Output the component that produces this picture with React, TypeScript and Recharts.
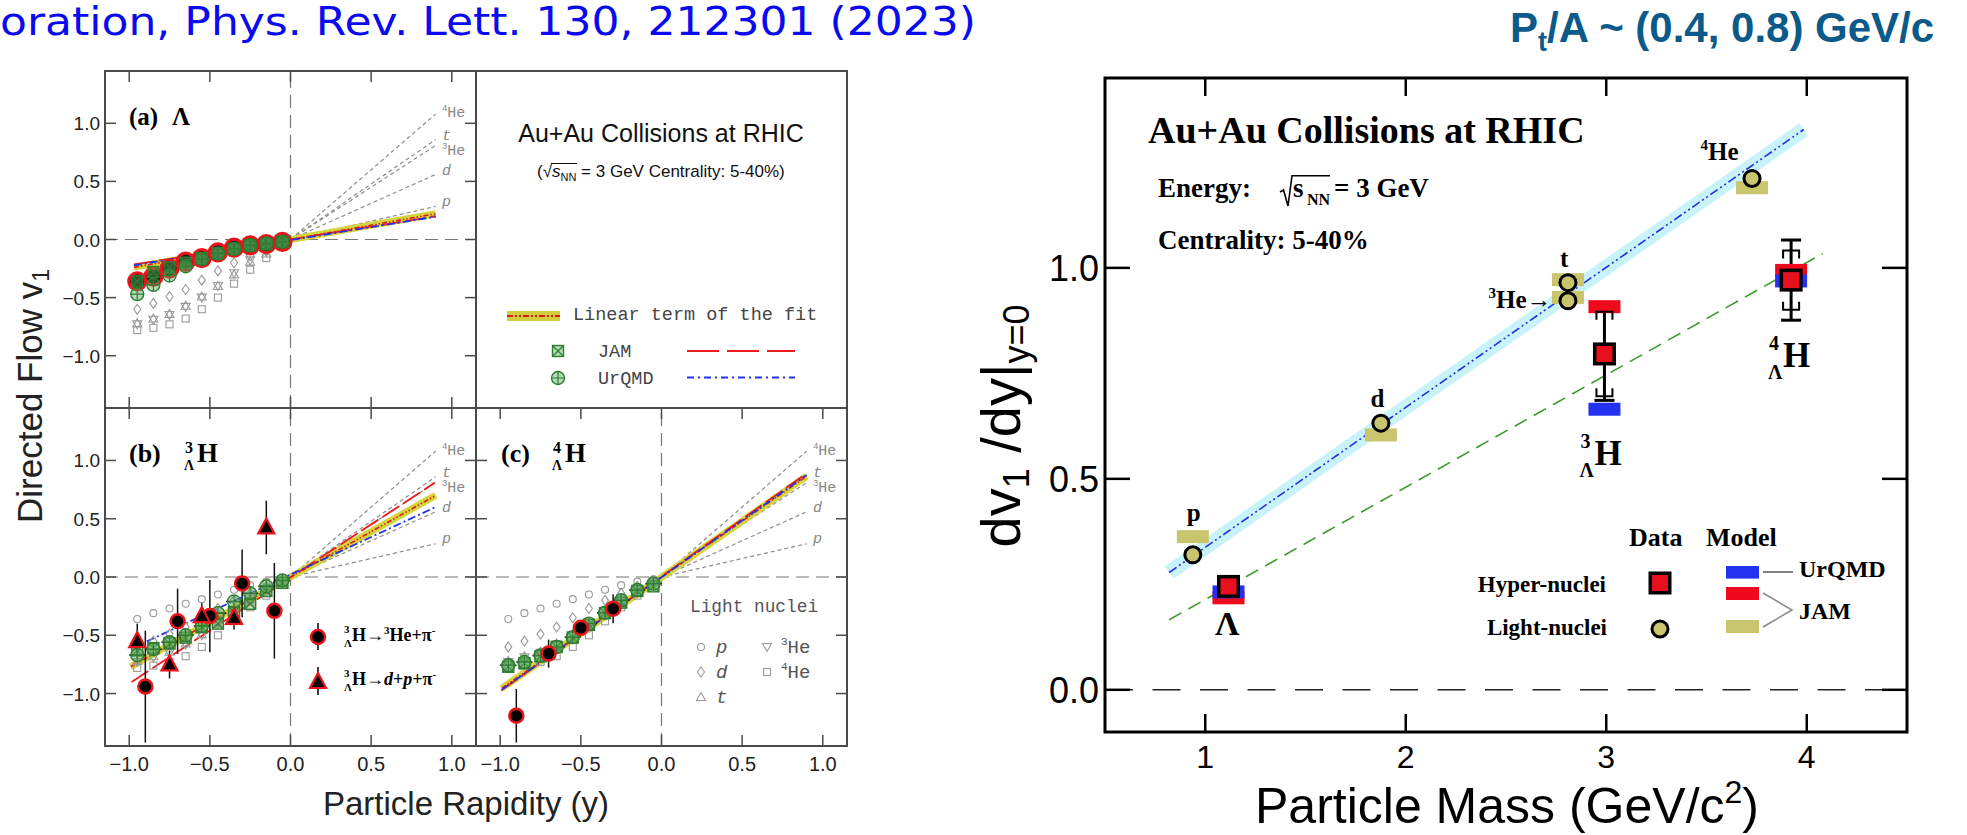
import React from 'react';
import {
  ComposedChart,
  Scatter,
  Line,
  XAxis,
  YAxis,
  ReferenceLine,
  ReferenceArea,
  ErrorBar,
} from 'recharts';

// ---------------- v1(y) panels ----------------
const rapidity = [-0.95, -0.85, -0.75, -0.65, -0.55, -0.45, -0.35, -0.25, -0.15, -0.05];

// light nuclei v1, shown in grey in every panel
const v1Proton = [-0.36, -0.31, -0.27, -0.23, -0.19, -0.15, -0.11, -0.07, -0.04, -0.02];
const v1Deuteron = [-0.6, -0.55, -0.49, -0.43, -0.35, -0.27, -0.2, -0.14, -0.08, -0.03];
const v1Triton = [-0.72, -0.68, -0.64, -0.57, -0.49, -0.4, -0.3, -0.19, -0.12, -0.04];
const v1Helium3 = [-0.73, -0.69, -0.65, -0.58, -0.5, -0.4, -0.29, -0.18, -0.11, -0.04];
const v1Helium4 = [-0.78, -0.76, -0.73, -0.68, -0.6, -0.5, -0.38, -0.26, -0.16, -0.05];

// light nuclei linear terms, drawn from y = 0 to y = 0.9
const nucleiNames = ['p', 'd', 't', '3He', '4He'];
const nucleiFitEnd = [0.285, 0.56, 0.86, 0.81, 1.08];
const nucleiLabelY = [0.291, 0.557, 0.857, 0.728, 1.051];
const NUCLEI_LABEL_X = 0.939;
const FIT_END_X = 0.9;
const BIN_HALF_WIDTH = 0.05;

// (a) Lambda
const lambdaV1 = [-0.36, -0.32, -0.25, -0.19, -0.16, -0.11, -0.07, -0.05, -0.04, -0.02];
const lambdaJam = [-0.36, -0.28, -0.24, -0.2, -0.16, -0.12, -0.08, -0.05, -0.04, -0.02];
const lambdaUrqmd = [-0.47, -0.39, -0.31, -0.23, -0.17, -0.12, -0.08, -0.05, -0.035, -0.02];
const lambdaFit = [[-0.97, -0.24], [0.9, 0.222]];
const lambdaJamLine = [[-0.97, -0.215], [0.9, 0.2]];
const lambdaUrqmdLine = [[-0.97, -0.222], [0.9, 0.196]];

// (b) hypertriton, two decay channels
const h3TwoBodyY = [-0.9, -0.7, -0.5, -0.3, -0.1];
const h3TwoBodyV1 = [-0.94, -0.38, -0.335, -0.055, -0.29];
const h3TwoBodyErr = [0.48, 0.28, 0.31, 0.29, 0.41];
const h3ThreeBodyY = [-0.95, -0.75, -0.55, -0.35, -0.15];
const h3ThreeBodyV1 = [-0.55, -0.75, -0.335, -0.35, 0.425];
const h3ThreeBodyErr = [0.15, 0.12, 0.12, 0.1, 0.23];
const h3Jam = [-0.63, -0.61, -0.57, -0.52, -0.43, -0.4, -0.3, -0.23, -0.12, -0.05];
const h3Urqmd = [-0.67, -0.62, -0.56, -0.5, -0.42, -0.31, -0.21, -0.14, -0.08, -0.03];
const h3Fit = [[-0.99, -0.77], [0.9, 0.7]];
const h3JamLine = [[-0.985, -0.9], [0.895, 0.81]];
const h3UrqmdLine = [[-0.98, -0.61], [0.9, 0.6]];

// (c) hyperhydrogen-4
const h4Y = [-0.9, -0.7, -0.5, -0.3];
const h4V1 = [-1.19, -0.657, -0.436, -0.272];
const h4Err = [0.23, 0.12, 0.05, 0.125];
const h4Jam = [-0.77, -0.74, -0.68, -0.6, -0.52, -0.41, -0.31, -0.22, -0.12, -0.08];
const h4Urqmd = [-0.757, -0.729, -0.674, -0.6, -0.516, -0.4, -0.307, -0.2, -0.112, -0.057];
const h4Fit = [[-0.99, -0.955], [0.9, 0.865]];
const h4JamLine = [[-0.995, -0.975], [0.9, 0.89]];
const h4UrqmdLine = [[-0.99, -0.965], [0.9, 0.875]];

// ---------------- dv1/dy vs mass ----------------
const lightMass = [0.938, 1.876, 2.809, 2.809, 3.727];
const lightSlope = [0.32, 0.632, 0.965, 0.922, 1.212];
const lightJamSlope = [0.363, 0.604, 0.972, 0.93, 1.19];
const hyperMass = [1.116, 2.991, 3.922];
const hyperSlope = [0.245, 0.796, 0.971];
const hyperStat = [0.012, 0.11, 0.095];
const hyperSys = [0.01, 0.1, 0.07];
const hyperJamSlope = [0.218, 0.908, 0.994];
const hyperUrqmdSlope = [0.232, 0.665, 0.969];
const lightBand = [[0.82, 0.278], [3.985, 1.328]];
const hyperGuide = [[0.82, 0.166], [4.08, 1.034]];
const massLabels = [
  { x: 0.942, y: 0.399, kind: 'p' },
  { x: 1.859, y: 0.671, kind: 'd' },
  { x: 2.79, y: 1.002, kind: 't' },
  { x: 2.727, y: 0.905, kind: 'he3' },
  { x: 3.47, y: 1.255, kind: 'he4' },
  { x: 1.11, y: 0.13, kind: 'lambda' },
  { x: 2.942, y: 0.533, kind: 'h3' },
  { x: 3.882, y: 0.766, kind: 'h4' },
];

const SERIF = '"Liberation Serif", "Times New Roman", serif';
const SANS = '"Liberation Sans", Arial, sans-serif';
const MONO = '"Liberation Mono", "Courier New", monospace';
const FRAME = '#4a4a4a';
const GREY = '#9a9a9a';
const GREEN = '#2e7d32';
const GREEN_FILL = 'rgba(90,170,90,0.45)';
const DATA_RED = '#e8141c';
const JAM_RED = '#ee1c1c';
const URQMD_BLUE = '#2233ee';
const KHAKI = '#c9c46e';

const pts = (xs: number[], ys: number[], errs?: number[]) =>
  xs.map((x, i) => ({ x, y: ys[i], err: errs ? errs[i] : 0, xe: BIN_HALF_WIDTH }));
const seg = (pair: number[][]) => pair.map(([x, y]) => ({ x, y }));
const fmt = (v: number) => `${v < 0 ? '\u2212' : ''}${Math.abs(v).toFixed(1)}`;

const line = (key: string, data: number[][], stroke: string, width: number, dash?: string) => (
  <Line
    key={key}
    data={seg(data)}
    dataKey="y"
    type="linear"
    dot={false}
    activeDot={false}
    stroke={stroke}
    strokeWidth={width}
    strokeDasharray={dash}
    strokeLinecap="butt"
    isAnimationActive={false}
  />
);

// ---------- marker shapes ----------
const greyCircle = (p: any) => <circle cx={p.cx} cy={p.cy} r={3.5} fill="none" stroke={GREY} strokeWidth={1.1} />;
const greyDiamond = (p: any) => (
  <path d={`M${p.cx},${p.cy - 5}L${p.cx + 3.5},${p.cy}L${p.cx},${p.cy + 5}L${p.cx - 3.5},${p.cy}Z`} fill="none" stroke={GREY} strokeWidth={1.1} />
);
const greyTriUp = (p: any) => (
  <path d={`M${p.cx},${p.cy - 4.5}L${p.cx + 4.5},${p.cy + 3.5}L${p.cx - 4.5},${p.cy + 3.5}Z`} fill="none" stroke={GREY} strokeWidth={1.1} />
);
const greyTriDown = (p: any) => (
  <path d={`M${p.cx},${p.cy + 4.5}L${p.cx + 4.5},${p.cy - 3.5}L${p.cx - 4.5},${p.cy - 3.5}Z`} fill="none" stroke={GREY} strokeWidth={1.1} />
);
const greySquare = (p: any) => (
  <rect x={p.cx - 3.5} y={p.cy - 3.5} width={7} height={7} fill="none" stroke={GREY} strokeWidth={1.1} />
);
const jamMarker = (p: any) => (
  <g>
    <rect x={p.cx - 5.5} y={p.cy - 5.5} width={11} height={11} fill={GREEN_FILL} stroke={GREEN} strokeWidth={1.4} />
    <path d={`M${p.cx - 5.5},${p.cy - 5.5}L${p.cx + 5.5},${p.cy + 5.5}M${p.cx + 5.5},${p.cy - 5.5}L${p.cx - 5.5},${p.cy + 5.5}`} stroke={GREEN} strokeWidth={1.2} />
  </g>
);
const urqmdMarker = (p: any) => (
  <g>
    <circle cx={p.cx} cy={p.cy} r={6.5} fill={GREEN_FILL} stroke={GREEN} strokeWidth={1.4} />
    <path d={`M${p.cx - 6.5},${p.cy}H${p.cx + 6.5}M${p.cx},${p.cy - 6.5}V${p.cy + 6.5}`} stroke={GREEN} strokeWidth={1.2} />
  </g>
);
const dataCircle = (p: any) => <circle cx={p.cx} cy={p.cy} r={7} fill="#000" stroke={DATA_RED} strokeWidth={2.5} />;
const lambdaCircle = (p: any) => <circle cx={p.cx} cy={p.cy} r={8.5} fill="#111" stroke={DATA_RED} strokeWidth={3.2} />;
const dataTriangle = (p: any) => (
  <path d={`M${p.cx},${p.cy - 9}L${p.cx + 8},${p.cy + 6}L${p.cx - 8},${p.cy + 6}Z`} fill="#000" stroke={DATA_RED} strokeWidth={2.2} />
);
const nucleiLabel = (p: any) => {
  const name = p.payload.name as string;
  const sup = name.length > 1 ? name[0] : null;
  return (
    <text x={p.cx} y={p.cy} fontFamily={MONO} fontSize={15} fill="#888">
      {sup ? (
        <>
          <tspan fontSize={9} dy={-6}>{sup}</tspan>
          <tspan dy={6}>He</tspan>
        </>
      ) : (
        <tspan fontStyle="italic">{name}</tspan>
      )}
    </text>
  );
};

// ---------- panel frame ticks (inward on all four sides) ----------
const panelXTick = (plotH: number, labels: boolean) => (p: any) => (
  <g>
    <line x1={p.x} x2={p.x} y1={p.y} y2={p.y - 11} stroke={FRAME} strokeWidth={1.5} />
    <line x1={p.x} x2={p.x} y1={p.y - plotH} y2={p.y - plotH + 11} stroke={FRAME} strokeWidth={1.5} />
    {labels ? (
      <text x={p.x} y={p.y + 25} textAnchor="middle" fontFamily={SANS} fontSize={20} fill="#222">
        {fmt(p.payload.value)}
      </text>
    ) : null}
  </g>
);
const panelYTick = (plotW: number, labels: boolean) => (p: any) => (
  <g>
    <line x1={p.x} x2={p.x + 11} y1={p.y} y2={p.y} stroke={FRAME} strokeWidth={1.5} />
    <line x1={p.x + plotW} x2={p.x + plotW - 11} y1={p.y} y2={p.y} stroke={FRAME} strokeWidth={1.5} />
    {labels ? (
      <text x={p.x - 5} y={p.y + 7} textAnchor="end" fontFamily={SANS} fontSize={19} fill="#222">
        {fmt(p.payload.value)}
      </text>
    ) : null}
  </g>
);

// space around each plot area: chart margin plus axis band
const PM = { top: 6, right: 6, bottom: 20, left: 34 };
const P_AXIS_H = 20;
const P_AXIS_W = 30;
type Box = { left: number; top: number; width: number; height: number };
const PANEL_A: Box = { left: 105, top: 71, width: 371, height: 337 };
const PANEL_B: Box = { left: 105, top: 408, width: 371, height: 338 };
const PANEL_C: Box = { left: 476, top: 408, width: 371, height: 338 };

const nucleiItems = (id: string) => [
  ...nucleiFitEnd.map((end, i) => line(`${id}-nf${i}`, [[0, 0], [FIT_END_X, end]], '#8c8c8c', 1.2, '4 3')),
  <Scatter
    key={`${id}-nl`}
    data={nucleiNames.map((name, i) => ({ x: NUCLEI_LABEL_X, y: nucleiLabelY[i], name }))}
    shape={nucleiLabel}
    isAnimationActive={false}
  />,
  <Scatter key={`${id}-g4`} data={pts(rapidity, v1Helium4)} shape={greySquare} isAnimationActive={false} />,
  <Scatter key={`${id}-g3`} data={pts(rapidity, v1Helium3)} shape={greyTriDown} isAnimationActive={false} />,
  <Scatter key={`${id}-gt`} data={pts(rapidity, v1Triton)} shape={greyTriUp} isAnimationActive={false} />,
  <Scatter key={`${id}-gd`} data={pts(rapidity, v1Deuteron)} shape={greyDiamond} isAnimationActive={false} />,
  <Scatter key={`${id}-gp`} data={pts(rapidity, v1Proton)} shape={greyCircle} isAnimationActive={false} />,
];

const modelLines = (id: string, fit: number[][], jam: number[][], urqmd: number[][]) => [
  line(`${id}-band`, fit, '#d4d43c', 7),
  line(`${id}-fit`, fit, '#e01818', 1.6, '5 2 1.5 2 1.5 2'),
  line(`${id}-jam`, jam, JAM_RED, 1.8, '20 5'),
  line(`${id}-urqmd`, urqmd, URQMD_BLUE, 1.8, '8 3 2 3'),
];

const modelMarkers = (id: string, jam: number[], urqmd: number[], xBars: boolean) => [
  <Scatter key={`${id}-mj`} data={pts(rapidity, jam)} shape={jamMarker} isAnimationActive={false} />,
  <Scatter key={`${id}-mu`} data={pts(rapidity, urqmd)} shape={urqmdMarker} isAnimationActive={false}>
    {xBars ? <ErrorBar dataKey="xe" direction="x" width={0} stroke="#111" strokeWidth={1.6} /> : null}
  </Scatter>,
];

function RapidityPanel({ box, showX, showY, children }: { box: Box; showX: boolean; showY: boolean; children: React.ReactNode }) {
  const offL = PM.left + P_AXIS_W;
  const offT = PM.top;
  return (
    <div style={{ position: 'absolute', left: box.left - offL, top: box.top - offT }}>
      <ComposedChart
        width={box.width + offL + PM.right}
        height={box.height + PM.top + PM.bottom + P_AXIS_H}
        margin={PM}
      >
        <XAxis
          type="number"
          dataKey="x"
          domain={[-1.15, 1.15]}
          ticks={[-1, -0.5, 0, 0.5, 1]}
          allowDataOverflow
          height={P_AXIS_H}
          tickSize={0}
          tickMargin={0}
          tickLine={false}
          axisLine={false}
          interval={0}
          tick={panelXTick(box.height, showX)}
        />
        <YAxis
          type="number"
          dataKey="y"
          domain={[-1.45, 1.45]}
          ticks={[-1, -0.5, 0, 0.5, 1]}
          allowDataOverflow
          width={P_AXIS_W}
          tickSize={0}
          tickMargin={0}
          tickLine={false}
          axisLine={false}
          interval={0}
          tick={panelYTick(box.width, showY)}
        />
        <ReferenceLine y={0} stroke="#777" strokeWidth={1.2} strokeDasharray="13 7" />
        <ReferenceLine x={0} stroke="#777" strokeWidth={1.2} strokeDasharray="13 7" />
        {children}
        <ReferenceArea x1={-1.15} x2={1.15} y1={-1.45} y2={1.45} fill="none" stroke={FRAME} strokeWidth={2} ifOverflow="visible" />
      </ComposedChart>
    </div>
  );
}

// ---------- mass panel ----------
const R: Box = { left: 1105, top: 78, width: 802, height: 654 };
const RM = { top: 10, right: 10, bottom: 20, left: 30 };
const R_AXIS_H = 30;
const R_AXIS_W = 40;

const massXTick = (p: any) => (
  <g>
    <line x1={p.x} x2={p.x} y1={p.y} y2={p.y - 18} stroke="#000" strokeWidth={2.5} />
    <line x1={p.x} x2={p.x} y1={p.y - R.height} y2={p.y - R.height + 18} stroke="#000" strokeWidth={2.5} />
    <text x={p.x} y={p.y + 36} textAnchor="middle" fontFamily={SANS} fontSize={32} fill="#000">
      {p.payload.value}
    </text>
  </g>
);
const massYTick = (p: any) => (
  <g>
    <line x1={p.x} x2={p.x + 25} y1={p.y} y2={p.y} stroke="#000" strokeWidth={2.5} />
    <line x1={p.x + R.width} x2={p.x + R.width - 25} y1={p.y} y2={p.y} stroke="#000" strokeWidth={2.5} />
    <text x={p.x - 6} y={p.y + 13} textAnchor="end" fontFamily={SANS} fontSize={36} fill="#000">
      {Number(p.payload.value).toFixed(1)}
    </text>
  </g>
);

const modelRect = (fill: string) => (p: any) => (
  <rect x={p.cx - 16} y={p.cy - 6.5} width={32} height={13} fill={fill} />
);
const lightCircle = (p: any) => <circle cx={p.cx} cy={p.cy} r={8} fill={KHAKI} stroke="#000" strokeWidth={3} />;
const hyperSquare = (p: any) => (
  <rect x={p.cx - 9.75} y={p.cy - 9.75} width={19.5} height={19.5} fill="#e8101e" stroke="#000" strokeWidth={3.5} />
);
const sysCapTop = (p: any) => (
  <path d={`M${p.cx - 8},${p.cy + 8}V${p.cy}H${p.cx + 8}V${p.cy + 8}`} fill="none" stroke="#000" strokeWidth={2} />
);
const sysCapBottom = (p: any) => (
  <path d={`M${p.cx - 8},${p.cy - 8}V${p.cy}H${p.cx + 8}V${p.cy - 8}`} fill="none" stroke="#000" strokeWidth={2} />
);
const hyperText = (cx: number, cy: number, mass: string) => (
  <g fontFamily={SERIF} fontWeight="bold" fill="#000">
    <text x={cx - 9} y={cy - 17} textAnchor="middle" fontSize={20}>{mass}</text>
    <text x={cx - 8} y={cy + 12} textAnchor="middle" fontSize={20}>Λ</text>
    <text x={cx} y={cy} fontSize={35}>H</text>
  </g>
);
const massLabel = (p: any) => {
  const { cx, cy } = p;
  const common = { fontFamily: SERIF, fontWeight: 'bold' as const, fill: '#000' };
  switch (p.payload.kind) {
    case 'p':
    case 'd':
    case 't':
      return <text x={cx} y={cy} textAnchor="middle" fontSize={25} {...common}>{p.payload.kind}</text>;
    case 'he3':
      return (
        <text x={cx} y={cy} textAnchor="end" fontSize={25} {...common}>
          <tspan fontSize={15} dy={-10}>3</tspan>
          <tspan dy={10}>He</tspan>
          <tspan fontWeight="normal">→</tspan>
        </text>
      );
    case 'he4':
      return (
        <text x={cx} y={cy} fontSize={25} {...common}>
          <tspan fontSize={15} dy={-10}>4</tspan>
          <tspan dy={10}>He</tspan>
        </text>
      );
    case 'lambda':
      return <text x={cx} y={cy} textAnchor="middle" fontSize={34} {...common}>Λ</text>;
    case 'h3':
      return hyperText(cx, cy, '3');
    default:
      return hyperText(cx, cy, '4');
  }
};

function MassChart() {
  const hyper = hyperMass.map((x, i) => ({ x, y: hyperSlope[i], err: hyperStat[i] }));
  const offL = RM.left + R_AXIS_W;
  return (
    <div style={{ position: 'absolute', left: R.left - offL, top: R.top - RM.top }}>
      <ComposedChart
        width={R.width + offL + RM.right}
        height={R.height + RM.top + RM.bottom + R_AXIS_H}
        margin={RM}
      >
        <XAxis
          type="number"
          dataKey="x"
          domain={[0.5, 4.5]}
          ticks={[1, 2, 3, 4]}
          allowDataOverflow
          height={R_AXIS_H}
          tickSize={0}
          tickMargin={0}
          tickLine={false}
          axisLine={false}
          interval={0}
          tick={massXTick}
        />
        <YAxis
          type="number"
          dataKey="y"
          domain={[-0.1, 1.45]}
          ticks={[0, 0.5, 1]}
          allowDataOverflow
          width={R_AXIS_W}
          tickSize={0}
          tickMargin={0}
          tickLine={false}
          axisLine={false}
          interval={0}
          tick={massYTick}
        />
        <ReferenceLine y={0} stroke="#222" strokeWidth={1.6} strokeDasharray="28 19.5" />
        {line('band', lightBand, '#c8f3fa', 15)}
        {line('band-line', lightBand, '#2030e0', 1.6, '9 3 2 3 2 3')}
        {line('guide', hyperGuide, '#3a9a2a', 1.6, '14 8')}
        <Scatter data={pts(lightMass, lightJamSlope)} shape={modelRect(KHAKI)} isAnimationActive={false} />
        <Scatter data={pts(hyperMass, hyperJamSlope)} shape={modelRect('#ee0a1c')} isAnimationActive={false} />
        <Scatter data={pts(hyperMass, hyperUrqmdSlope)} shape={modelRect('#2232f0')} isAnimationActive={false} />
        <Scatter data={hyperMass.map((x, i) => ({ x, y: hyperSlope[i] + hyperSys[i] }))} shape={sysCapTop} isAnimationActive={false} />
        <Scatter data={hyperMass.map((x, i) => ({ x, y: hyperSlope[i] - hyperSys[i] }))} shape={sysCapBottom} isAnimationActive={false} />
        <Scatter data={hyper} shape={hyperSquare} isAnimationActive={false}>
          <ErrorBar dataKey="err" direction="y" width={10} stroke="#000" strokeWidth={3} />
        </Scatter>
        <Scatter data={pts(lightMass, lightSlope)} shape={lightCircle} isAnimationActive={false} />
        <Scatter data={massLabels} shape={massLabel} isAnimationActive={false} />
        <ReferenceArea x1={0.5} x2={4.5} y1={-0.1} y2={1.45} fill="none" stroke="#000" strokeWidth={3} ifOverflow="visible" />
      </ComposedChart>
    </div>
  );
}

// ---------- titles, legends and axis titles ----------
function Overlay() {
  const serifBold = { fontFamily: SERIF, fontWeight: 'bold' as const, fill: '#000' };
  return (
    <svg width={1967} height={835} style={{ position: 'absolute', left: 0, top: 0, pointerEvents: 'none' }}>
      <text x={0} y={35} fontFamily='"Comic Sans MS", "DejaVu Sans", sans-serif' fontSize={39} fill="#0a0af0" textLength={976} lengthAdjust="spacingAndGlyphs">
        oration, Phys. Rev. Lett. 130, 212301 (2023)
      </text>
      <text x={1510} y={42} fontFamily={SANS} fontWeight="bold" fontSize={42} fill="#0b5a8a">
        P<tspan fontSize={27} dy={9}>t</tspan>
        <tspan dy={-9}>/A ~ (0.4, 0.8) GeV/c</tspan>
      </text>

      {/* left figure: legend box */}
      <rect x={476} y={71} width={371} height={337} fill="none" stroke={FRAME} strokeWidth={2} />
      <text x={661} y={142} textAnchor="middle" fontFamily={SANS} fontSize={25} fill="#111">Au+Au Collisions at RHIC</text>
      <text x={537} y={177} fontFamily={SANS} fontSize={17} fill="#111">
        (√<tspan fontStyle="italic">s</tspan>
        <tspan fontSize={11} dy={4}>NN</tspan>
        <tspan dy={-4}> = 3 GeV Centrality: 5-40%)</tspan>
      </text>
      <line x1={551} x2={577} y1={163.5} y2={163.5} stroke="#111" strokeWidth={1} />
      <rect x={507} y={311} width={53} height={10} fill="#cfcf40" />
      <line x1={507} x2={560} y1={316} y2={316} stroke="#e01818" strokeWidth={2} strokeDasharray="6 2 2 2 2 2" />
      <text x={573} y={319.5} fontFamily={MONO} fontSize={18.5} fill="#444">Linear term of the fit</text>
      {jamMarker({ cx: 558, cy: 351 })}
      <text x={598} y={357} fontFamily={MONO} fontSize={18.5} fill="#444">JAM</text>
      <line x1={687} x2={795} y1={351} y2={351} stroke={JAM_RED} strokeWidth={2} strokeDasharray="32 8" />
      {urqmdMarker({ cx: 558, cy: 378 })}
      <text x={598} y={384} fontFamily={MONO} fontSize={18.5} fill="#444">UrQMD</text>
      <line x1={687} x2={795} y1={377.5} y2={377.5} stroke={URQMD_BLUE} strokeWidth={2} strokeDasharray="7 4 2 4" />

      {/* panel titles */}
      <text x={129} y={125} fontSize={25} {...serifBold}>(a)<tspan x={172}>Λ</tspan></text>
      <text x={129} y={462} fontSize={26} {...serifBold}>(b)</text>
      <text x={185} y={453} fontSize={16} {...serifBold}>3</text>
      <text x={184} y={470} fontSize={14} {...serifBold}>Λ</text>
      <text x={197} y={462} fontSize={27} {...serifBold}>H</text>
      <text x={501} y={462} fontSize={26} {...serifBold}>(c)</text>
      <text x={553} y={453} fontSize={16} {...serifBold}>4</text>
      <text x={552} y={470} fontSize={14} {...serifBold}>Λ</text>
      <text x={565} y={462} fontSize={27} {...serifBold}>H</text>

      {/* (b) data legend */}
      <line x1={318} x2={318} y1={623} y2={650} stroke="#000" strokeWidth={1.5} />
      {dataCircle({ cx: 318, cy: 637 })}
      <text y={641} fontSize={18} {...serifBold}>
        <tspan x={344} y={633} fontSize={11}>3</tspan>
        <tspan x={344} y={647} fontSize={11}>Λ</tspan>
        <tspan x={352} y={641}>H→</tspan>
        <tspan fontSize={11} dy={-7}>3</tspan>
        <tspan dy={7}>He+π</tspan>
        <tspan fontSize={11} dy={-7}>-</tspan>
      </text>
      <line x1={318} x2={318} y1={667} y2={695} stroke="#000" strokeWidth={1.5} />
      {dataTriangle({ cx: 318, cy: 682 })}
      <text y={685} fontSize={18} {...serifBold}>
        <tspan x={344} y={677} fontSize={11}>3</tspan>
        <tspan x={344} y={691} fontSize={11}>Λ</tspan>
        <tspan x={352} y={685}>H→</tspan>
        <tspan fontStyle="italic">d</tspan>
        <tspan>+</tspan>
        <tspan fontStyle="italic">p</tspan>
        <tspan>+π</tspan>
        <tspan fontSize={11} dy={-7}>-</tspan>
      </text>

      {/* (c) light nuclei legend */}
      <text x={690} y={612} fontFamily={MONO} fontSize={17.8} fill="#555">Light nuclei</text>
      {greyCircle({ cx: 701, cy: 647 })}
      <text x={716} y={653} fontFamily={MONO} fontSize={19} fontStyle="italic" fill="#555">p</text>
      {greyDiamond({ cx: 701, cy: 672 })}
      <text x={716} y={678} fontFamily={MONO} fontSize={19} fontStyle="italic" fill="#555">d</text>
      {greyTriUp({ cx: 701, cy: 697 })}
      <text x={716} y={703} fontFamily={MONO} fontSize={19} fontStyle="italic" fill="#555">t</text>
      {greyTriDown({ cx: 767, cy: 647 })}
      <text x={781} y={653} fontFamily={MONO} fontSize={19} fill="#555">
        <tspan fontSize={11} dy={-8}>3</tspan>
        <tspan dy={8}>He</tspan>
      </text>
      {greySquare({ cx: 767, cy: 672 })}
      <text x={781} y={678} fontFamily={MONO} fontSize={19} fill="#555">
        <tspan fontSize={11} dy={-8}>4</tspan>
        <tspan dy={8}>He</tspan>
      </text>

      {/* left figure axis titles */}
      <text transform="translate(42,396) rotate(-90)" textAnchor="middle" fontFamily={SANS} fontSize={35} fill="#222">
        Directed Flow v<tspan fontSize={23} dy={7}>1</tspan>
      </text>
      <text x={466} y={815} textAnchor="middle" fontFamily={SANS} fontSize={33} fill="#222">Particle Rapidity (y)</text>

      {/* right figure annotations */}
      <text x={1148} y={143} fontSize={38} {...serifBold}>Au+Au Collisions at RHIC</text>
      <text x={1158} y={197} fontSize={27} {...serifBold}>Energy:</text>
      <polyline points="1280,192 1283.5,190 1288,206 1292,175.7 1330,175.7" fill="none" stroke="#000" strokeWidth={1.6} />
      <text x={1293} y={197} fontSize={27} {...serifBold}>s</text>
      <text x={1307} y={205} fontSize={16} {...serifBold}>NN</text>
      <text x={1334} y={197} fontSize={27} {...serifBold}>= 3 GeV</text>
      <text x={1158} y={249} fontSize={27} {...serifBold}>Centrality: 5-40%</text>

      <text x={1629} y={546} fontSize={26} {...serifBold}>Data</text>
      <text x={1706} y={546} fontSize={26} {...serifBold}>Model</text>
      <text x={1606} y={592} textAnchor="end" fontSize={23} {...serifBold}>Hyper-nuclei</text>
      <text x={1607} y={635} textAnchor="end" fontSize={23} {...serifBold}>Light-nuclei</text>
      {hyperSquare({ cx: 1660, cy: 583 })}
      {lightCircle({ cx: 1660, cy: 629 })}
      <rect x={1726} y={566} width={33} height={12.6} fill="#2232f0" />
      <rect x={1726} y={587} width={33} height={13} fill="#ee0a1c" />
      <rect x={1726} y={620} width={33} height={13} fill={KHAKI} />
      <line x1={1763} x2={1793} y1={572} y2={572} stroke="#555" strokeWidth={1.5} />
      <polyline points="1763,593 1792,610 1763,627" fill="none" stroke="#888" strokeWidth={1.5} />
      <text x={1799} y={577} fontSize={24} {...serifBold}>UrQMD</text>
      <text x={1799} y={619} fontSize={24} {...serifBold}>JAM</text>

      <text transform="translate(1020,426) rotate(-90)" textAnchor="middle" fontFamily={SANS} fontSize={56} fill="#000">
        dv<tspan fontSize={36} dy={9}>1</tspan>
        <tspan dy={-9}> /dy|</tspan>
        <tspan fontSize={36} dy={9}>y=0</tspan>
      </text>
      <text x={1507} y={823} textAnchor="middle" fontFamily={SANS} fontSize={50} fill="#000">
        Particle Mass (GeV/c<tspan fontSize={32} dy={-20}>2</tspan>
        <tspan dy={20}>)</tspan>
      </text>
    </svg>
  );
}

export default function App() {
  return (
    <div style={{ position: 'relative', width: 1967, height: 835, background: '#fff', overflow: 'hidden' }}>
      <style>{'body{margin:0;}'}</style>
      <RapidityPanel box={PANEL_A} showX={false} showY>
        {nucleiItems('a')}
        {modelLines('a', lambdaFit, lambdaJamLine, lambdaUrqmdLine)}
        <Scatter data={pts(rapidity, lambdaV1)} shape={lambdaCircle} isAnimationActive={false} />
        {modelMarkers('a', lambdaJam, lambdaUrqmd, false)}
      </RapidityPanel>
      <RapidityPanel box={PANEL_B} showX showY>
        {nucleiItems('b')}
        {modelLines('b', h3Fit, h3JamLine, h3UrqmdLine)}
        {modelMarkers('b', h3Jam, h3Urqmd, true)}
        <Scatter data={pts(h3TwoBodyY, h3TwoBodyV1, h3TwoBodyErr)} shape={dataCircle} isAnimationActive={false}>
          <ErrorBar dataKey="err" direction="y" width={0} stroke="#111" strokeWidth={1.5} />
        </Scatter>
        <Scatter data={pts(h3ThreeBodyY, h3ThreeBodyV1, h3ThreeBodyErr)} shape={dataTriangle} isAnimationActive={false}>
          <ErrorBar dataKey="err" direction="y" width={0} stroke="#111" strokeWidth={1.5} />
        </Scatter>
      </RapidityPanel>
      <RapidityPanel box={PANEL_C} showX showY={false}>
        {nucleiItems('c')}
        {modelLines('c', h4Fit, h4JamLine, h4UrqmdLine)}
        {modelMarkers('c', h4Jam, h4Urqmd, true)}
        <Scatter data={pts(h4Y, h4V1, h4Err)} shape={dataCircle} isAnimationActive={false}>
          <ErrorBar dataKey="err" direction="y" width={0} stroke="#111" strokeWidth={1.5} />
        </Scatter>
      </RapidityPanel>
      <MassChart />
      <Overlay />
    </div>
  );
}
